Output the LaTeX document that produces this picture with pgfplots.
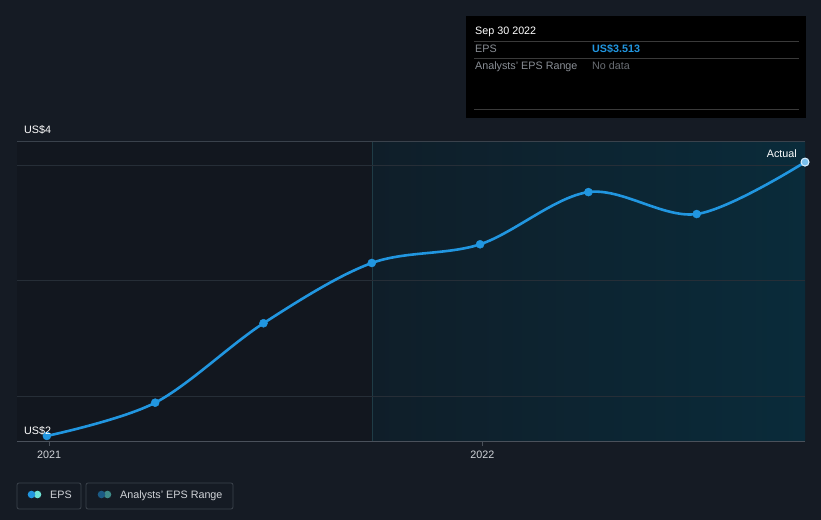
\documentclass[border=0pt]{standalone}
\usepackage{pgfplots}
\pgfplotsset{compat=1.18}
\usepackage{fontspec}
\setmainfont{Liberation Sans}
\definecolor{bg}{HTML}{151B24}
\definecolor{plotleft}{HTML}{12171F}
\definecolor{regl}{HTML}{0F1E29}
\definecolor{regr}{HTML}{0A2B3A}
\definecolor{gridc}{HTML}{262E37}
\definecolor{topline}{HTML}{3A424C}
\definecolor{botline}{HTML}{4A515B}
\definecolor{epsblue}{HTML}{2196E0}
\definecolor{epscyan}{HTML}{6FE3D5}
\definecolor{anblue}{HTML}{1B5A84}
\definecolor{anteal}{HTML}{3E8A88}
\definecolor{txt}{HTML}{D0D3D8}
\definecolor{ttgray}{HTML}{8A8F96}
\definecolor{ttdim}{HTML}{6A6E74}
\definecolor{ttline}{HTML}{3A3A3A}
\definecolor{legborder}{HTML}{3C434C}
\definecolor{sepline}{HTML}{1F3C46}
\pgfplotstableread{
t      eps
2021.00 2.327
2021.25 2.471
2021.50 2.815
2021.75 3.076
2022.00 3.157
2022.25 3.383
2022.50 3.288
2022.75 3.513
}\epsdata
\begin{document}
\begin{tikzpicture}[x=1bp,y=1bp,font=\fontsize{10.8}{13}\selectfont]
\fill[bg] (0,0) rectangle (821,-520);
% plot backgrounds
\fill[plotleft] (17,-142) rectangle (372,-441);
\shade[left color=regl,right color=regr] (372,-142) rectangle (805,-441);
\draw[sepline,line width=0.8bp] (372,-142) -- (372,-441);
\draw[topline,line width=1bp] (17,-142) -- (805,-142);
\draw[botline,line width=1bp] (17,-441) -- (805,-441);
\begin{axis}[
  at={(17bp,-441bp)}, anchor=south west,
  width=788bp, height=299bp, scale only axis,
  xmin=2020.931, xmax=2022.75, ymin=2.305, ymax=3.6,
  axis line style={draw=none},
  ytick={2.5,3,3.5}, yticklabels={}, ytick style={draw=none},
  ymajorgrids, grid style={color=gridc,line width=0.8bp},
  xtick={2021.005,2022.005}, xticklabels={2021,2022},
  xtick pos=bottom, tick align=outside, major tick length=5bp,
  xtick style={draw=botline,line width=0.8bp},
  xticklabel style={font=\fontsize{10.8}{13}\selectfont,text=txt,yshift=-1bp},
  /pgf/number format/assume math mode=true,
]
\addplot[epsblue,line width=2.6bp,smooth,tension=0.55,mark=*,mark size=4bp,
  mark options={fill=epsblue,draw=epsblue,line width=0.5bp}] table[x=t,y=eps] {\epsdata};
\addplot[only marks,mark=*,mark size=4bp,mark options={fill=epsblue!60!white,draw=white!85!epsblue,line width=1bp}] coordinates {(2022.75,3.513)};
\end{axis}
% axis value labels
\node[anchor=base west,text=white,inner sep=0] at (24,-134) {US\$4};
\node[anchor=base west,text=white,inner sep=0] at (24,-434) {US\$2};
\node[anchor=base east,text=white,inner sep=0] at (797,-158) {Actual};
% tooltip
\fill[black] (466,-16) rectangle (806,-118);
\node[anchor=base west,text=white,inner sep=0] at (475,-35) {Sep 30 2022};
\draw[ttline,line width=0.8bp] (474,-41.5) -- (799,-41.5);
\node[anchor=base west,text=ttgray,inner sep=0] at (475,-53) {EPS};
\node[anchor=base west,text=epsblue,inner sep=0] at (592,-53) {\bfseries US\$3.513};
\draw[ttline,line width=0.8bp] (474,-58.5) -- (799,-58.5);
\node[anchor=base west,text=ttgray,inner sep=0] at (475,-70) {Analysts' EPS Range};
\node[anchor=base west,text=ttdim,inner sep=0] at (592,-70) {No data};
\draw[ttline,line width=0.8bp] (474,-109.5) -- (799,-109.5);
% legend
\draw[legborder,line width=0.8bp,rounded corners=2bp] (17,-483) rectangle (81,-509);
\fill[epscyan] (37.5,-494.5) circle (3.8);
\fill[epsblue] (31.5,-494.5) circle (3.8);
\node[anchor=base west,text=txt,inner sep=0] at (50,-498.5) {EPS};
\draw[legborder,line width=0.8bp,rounded corners=2bp] (86,-483) rectangle (233,-509);
\fill[anteal] (107.5,-494.5) circle (3.8);
\fill[anblue] (101.5,-494.5) circle (3.8);
\node[anchor=base west,text=txt,inner sep=0] at (120,-498.5) {Analysts' EPS Range};
\end{tikzpicture}
\end{document}
